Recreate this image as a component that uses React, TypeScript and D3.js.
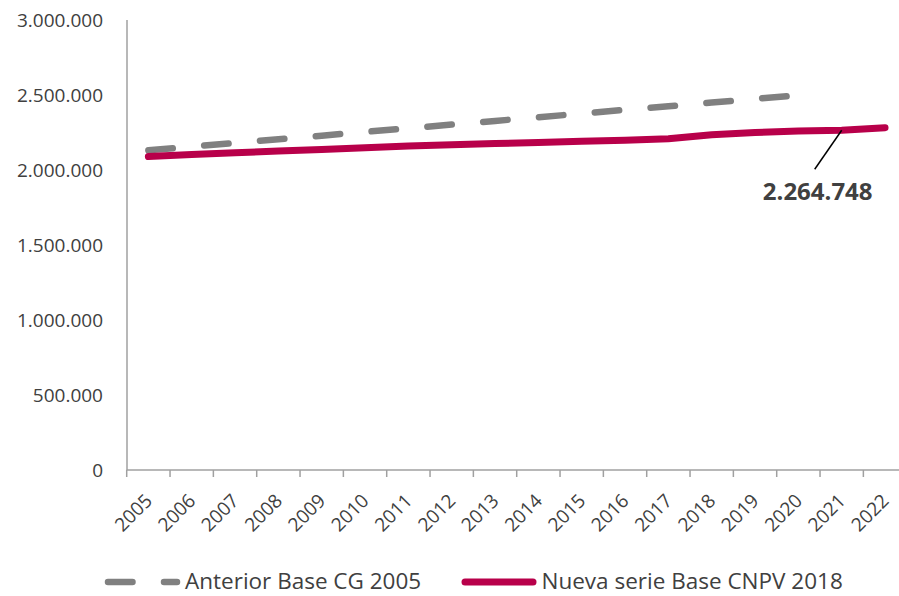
import {useEffect, useRef} from "react";
import * as d3 from 'd3'

const years = ['2005','2006','2007','2008','2009','2010','2011','2012','2013','2014','2015','2016','2017','2018','2019','2020','2021','2022']
const anteriorYears = years.slice(0, 16)
const anterior = [2131000,2156000,2180000,2205000,2229000,2254000,2278000,2303000,2327000,2352000,2376000,2401000,2425000,2450000,2474000,2499000]
const nueva = [2090000,2103000,2115000,2126000,2137000,2149000,2160000,2168000,2176000,2184000,2191000,2199000,2208000,2235000,2250000,2260000,2264748,2282000]
const yTicks = [0,500000,1000000,1500000,2000000,2500000,3000000]
const legendNames = ['Anterior Base CG 2005','Nueva serie Base CNPV 2018']

const W = 899, H = 596
const locale = d3.formatLocale({decimal: ',', thousands: '.', grouping: [3], currency: ['$', '']})
const fmt = locale.format(',d')

const App = () => {
    const svgRef = useRef<SVGSVGElement>(null)

    useEffect(() => {
        const svg = d3.select(svgRef.current)
        svg.selectAll('*').remove()

        const x = d3.scaleBand().domain(years).range([126.7, 906.7])
        const y = d3.scaleLinear().domain([0, 3000000]).range([470, 20])
        const cx = (d: string) => (x(d) as number) + x.bandwidth() / 2

        // y axis
        svg.append('line')
            .attr('x1', 127).attr('x2', 127).attr('y1', y(3000000)).attr('y2', y(0))
            .attr('stroke', '#a0a0a0').attr('stroke-width', 1.5)
        svg.selectAll('.ylab').data(yTicks).join('text')
            .attr('class', 'ylab')
            .attr('x', 103).attr('y', d => y(d) + 7)
            .attr('text-anchor', 'end')
            .attr('font-size', 19).attr('fill', '#404040')
            .text(d => fmt(d))

        // x axis
        svg.append('line')
            .attr('x1', 126.7).attr('x2', 906.7).attr('y1', y(0)).attr('y2', y(0))
            .attr('stroke', '#a0a0a0').attr('stroke-width', 1.5)
        svg.selectAll('.xtick').data(years).join('line')
            .attr('class', 'xtick')
            .attr('x1', d => x(d) as number).attr('x2', d => x(d) as number)
            .attr('y1', y(0)).attr('y2', y(0) + 7)
            .attr('stroke', '#a0a0a0').attr('stroke-width', 1.5)
        svg.selectAll('.xlab').data(years).join('text')
            .attr('class', 'xlab')
            .attr('transform', d => `translate(${cx(d) + 5},502) rotate(-45)`)
            .attr('text-anchor', 'end')
            .attr('font-size', 19).attr('fill', '#404040')
            .text(d => d)

        const line = d3.line<[string, number]>()
            .x(d => cx(d[0]))
            .y(d => y(d[1]))

        svg.append('path')
            .datum(anteriorYears.map((d, i) => [d, anterior[i]] as [string, number]))
            .attr('d', line)
            .attr('fill', 'none').attr('stroke', '#808080').attr('stroke-width', 6.5)
            .attr('stroke-linecap', 'round').attr('stroke-dasharray', '24.5,31.5')

        svg.append('path')
            .datum(years.map((d, i) => [d, nueva[i]] as [string, number]))
            .attr('d', line)
            .attr('fill', 'none').attr('stroke', '#b8004a').attr('stroke-width', 7)
            .attr('stroke-linecap', 'round').attr('stroke-linejoin', 'round')

        // annotation for 2021
        const ax = cx('2021'), ay = y(nueva[16])
        svg.append('line')
            .attr('x1', ax).attr('y1', ay).attr('x2', ax - 27).attr('y2', ay + 39)
            .attr('stroke', '#000').attr('stroke-width', 1.5)
        svg.append('text')
            .attr('x', ax - 24).attr('y', 200)
            .attr('text-anchor', 'middle')
            .attr('font-size', 24).attr('font-weight', 'bold').attr('fill', '#404040')
            .text(fmt(nueva[16]))

        // legend
        const lg = svg.append('g')
        lg.append('line')
            .attr('x1', 108).attr('x2', 177).attr('y1', 582).attr('y2', 582)
            .attr('stroke', '#808080').attr('stroke-width', 6.5)
            .attr('stroke-linecap', 'round').attr('stroke-dasharray', '24.5,31.5')
        lg.append('text')
            .attr('x', 185).attr('y', 589)
            .attr('font-size', 22.5).attr('fill', '#404040')
            .text(legendNames[0])
        lg.append('line')
            .attr('x1', 465).attr('x2', 533).attr('y1', 582).attr('y2', 582)
            .attr('stroke', '#b8004a').attr('stroke-width', 7).attr('stroke-linecap', 'round')
        lg.append('text')
            .attr('x', 541.5).attr('y', 589)
            .attr('font-size', 22.5).attr('fill', '#404040')
            .text(legendNames[1])
    }, [])

    return (
        <svg ref={svgRef} width={W} height={H}
             style={{position: 'absolute', left: 0, top: 0, fontFamily: "'Open Sans', sans-serif", background: '#fff'}}>
        </svg>
    )
}

export default App
